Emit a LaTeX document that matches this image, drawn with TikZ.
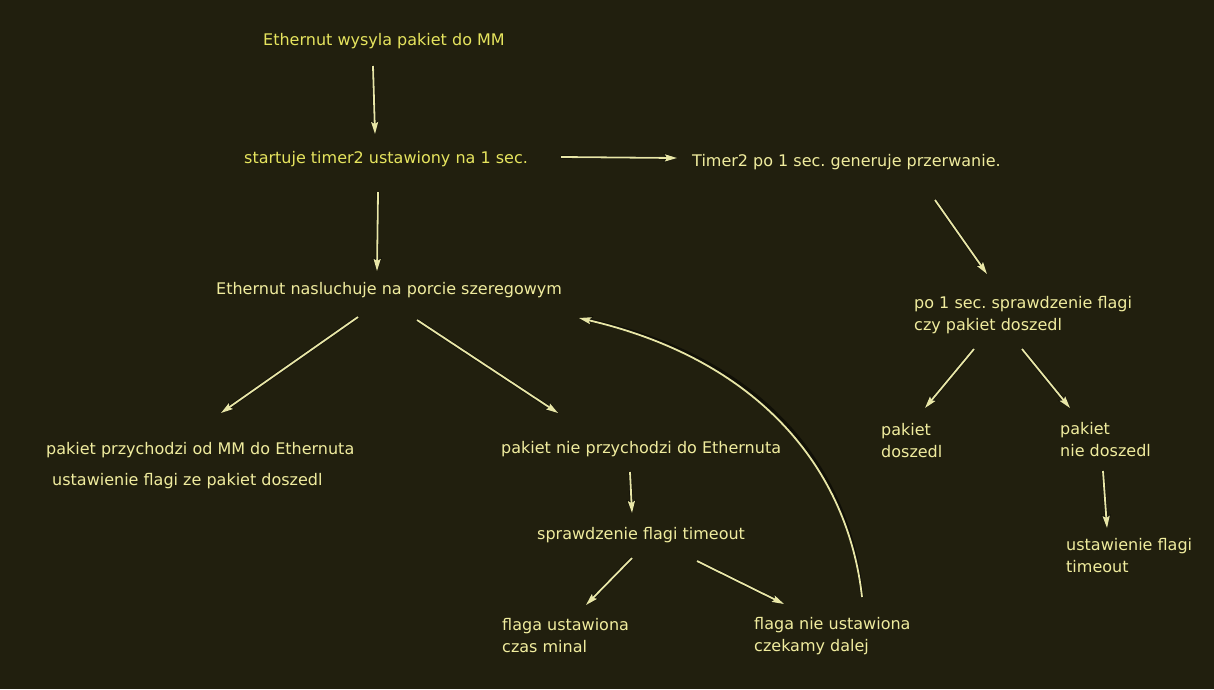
\documentclass[tikz,border=0pt]{standalone}
\usepackage{fontspec}
\setmainfont{DejaVu Sans}
\usetikzlibrary{arrows.meta}
\frenchspacing
\definecolor{bg}{HTML}{211F0E}
\definecolor{ytext}{HTML}{E6E45E}
\definecolor{ptext}{HTML}{F0EC9E}
\definecolor{arr}{HTML}{E8E6A6}
\tikzset{
  lbl/.style={anchor=base west, inner sep=0pt, align=left, text=ptext,
    font=\frenchspacing\fontsize{16}{22}\selectfont},
  ylbl/.style={lbl, text=ytext},
  conn/.style={draw=arr, line width=1.8pt, -{Stealth[length=12pt,width=7pt,inset=2pt]}},
  shadowline/.style={draw=black, opacity=0.5, line width=3.2pt, -{Stealth[length=13pt,width=9pt,inset=2pt]}, shift={(2pt,3pt)}}
}
\begin{document}
\begin{tikzpicture}[x=1pt,y=-1pt]
\fill[bg] (0,0) rectangle (1214,689);
\useasboundingbox (0,0) rectangle (1214,689);

% anchor = baseline of the last line
\node[ylbl] (t1) at (263,45) {Ethernut wysyla pakiet do MM};
\node[ylbl] (t2) at (244,163) {startuje timer2 ustawiony na 1 sec.};
\node[lbl] (t3) at (692,166) {Timer2 po 1 sec. generuje przerwanie.};
\node[lbl] (t4) at (216,294) {Ethernut nasluchuje na porcie szeregowym};
\node[lbl] (t5) at (914,330) {po 1 sec. sprawdzenie flagi\\czy pakiet doszedl};
\node[lbl] (t6) at (46,454) {pakiet przychodzi od MM do Ethernuta};
\node[lbl] (t7) at (52,485) {ustawienie flagi ze pakiet doszedl};
\node[lbl] (t8) at (501,453) {pakiet nie przychodzi do Ethernuta};
\node[lbl] (t9) at (537,539) {sprawdzenie flagi timeout};
\node[lbl] (t10) at (502,652) {flaga ustawiona\\czas minal};
\node[lbl] (t11) at (754,651) {flaga nie ustawiona\\czekamy dalej};
\node[lbl] (t12) at (881,457) {pakiet\\doszedl};
\node[lbl] (t13) at (1060,456) {pakiet\\nie doszedl};
\node[lbl] (t14) at (1066,572) {ustawienie flagi\\timeout};

% connector end points
\coordinate (a1s) at (373,66);   \coordinate (a1e) at (375,134);
\coordinate (a2s) at (378,192);  \coordinate (a2e) at (377,271);
\coordinate (a3s) at (561,157);  \coordinate (a3e) at (677,158);
\coordinate (a4s) at (935,200);  \coordinate (a4e) at (987,274);
\coordinate (a5s) at (358,317);  \coordinate (a5e) at (221,413);
\coordinate (a6s) at (417,320);  \coordinate (a6e) at (558,413);
\coordinate (a7s) at (974,349);  \coordinate (a7e) at (925,408);
\coordinate (a8s) at (1022,349); \coordinate (a8e) at (1070,408);
\coordinate (a9s) at (1103,471); \coordinate (a9e) at (1107,528);
\coordinate (a10s) at (630,472); \coordinate (a10e) at (632,513);
\coordinate (a11s) at (632,558); \coordinate (a11e) at (586,605);
\coordinate (a12s) at (697,561); \coordinate (a12e) at (784,604);
\coordinate (a13s) at (862,597); \coordinate (a13e) at (579,318);

% shadows
\foreach \s/\e in {a1s/a1e,a2s/a2e,a3s/a3e,a4s/a4e,a5s/a5e,a6s/a6e,a7s/a7e,a8s/a8e,a9s/a9e,a10s/a10e,a11s/a11e,a12s/a12e}
  \path[shadowline] (\s) -- (\e);
\path[shadowline] (a13s) .. controls (848,470) and (760,360) .. (a13e);

% connectors
\path[conn] (a1s) -- (a1e);
\path[conn] (a2s) -- (a2e);
\path[conn] (a3s) -- (a3e);
\path[conn] (a4s) -- (a4e);
\path[conn] (a5s) -- (a5e);
\path[conn] (a6s) -- (a6e);
\path[conn] (a7s) -- (a7e);
\path[conn] (a8s) -- (a8e);
\path[conn] (a9s) -- (a9e);
\path[conn] (a10s) -- (a10e);
\path[conn] (a11s) -- (a11e);
\path[conn] (a12s) -- (a12e);
\path[conn] (a13s) .. controls (848,470) and (760,360) .. (a13e);
\end{tikzpicture}
\end{document}
